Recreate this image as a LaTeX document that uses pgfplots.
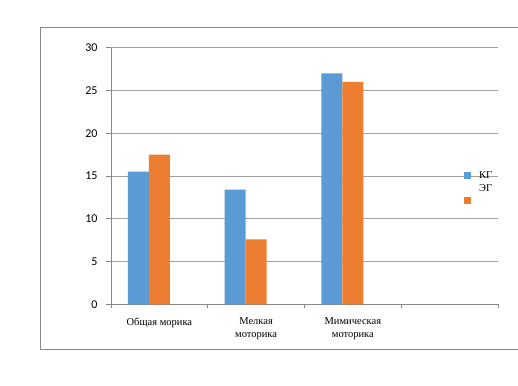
\documentclass[border=0pt]{standalone}
\usepackage{pgfplots}
\pgfplotsset{compat=1.18}
\usepackage{fontspec}
\setmainfont{Liberation Serif}
\newfontfamily\calib{Carlito}
\definecolor{kg}{HTML}{5B9BD5}
\definecolor{eg}{HTML}{ED7D31}
\definecolor{ax}{HTML}{888888}
\definecolor{gr}{HTML}{A0A0A0}
\begin{document}
\begin{tikzpicture}[x=1pt,y=1pt]
\useasboundingbox (0,0) rectangle (518,385);
\draw[ax, line width=0.9pt] (40,36) rectangle (530,358);
\begin{axis}[
  at={(111pt,80.7pt)}, anchor=south west,
  scale only axis, width=387pt, height=256.6pt,
  xmin=-0.5, xmax=3.5, ymin=0, ymax=30,
  ytick={0,5,...,30},
  xtick={0,1,2},
  xticklabels={Общая морика, Мелкая\\моторика, Мимическая\\моторика},
  minor xtick={-0.5,0.5,1.5,2.5,3.5},
  ymajorgrids, major grid style={gr, line width=0.6pt},
  axis x line*=bottom, axis y line*=left,
  axis line style={ax, line width=0.8pt, -},
  tick align=outside,
  major tick length=5pt, minor tick length=4pt,
  tick style={ax, line width=0.6pt},
  major x tick style={draw=none},
  /pgf/number format/assume math mode=true,
  yticklabel style={font=\calib\fontsize{12}{14}\selectfont, xshift=-5pt},
  xticklabel style={font=\fontsize{10.5}{12.7}\selectfont, align=center, yshift=-5pt},
  ybar, bar width=21pt,
  legend style={at={(0.912,0.523)}, anchor=north west, draw=none, fill=none,
    font=\fontsize{10.5}{12}\selectfont, inner sep=0pt, row sep=3pt,
    nodes={inner sep=1pt}},
  legend cell align=left,
]
\addplot[fill=kg, draw=none, bar shift=-21pt,
  legend image code/.code={\fill[kg] (0pt,-3.5pt) rectangle (7pt,3.5pt); \path (14pt,0pt);}]
  coordinates {(0,15.5) (1,13.4) (2,27)};
\addplot[fill=eg, draw=none, bar shift=0pt,
  legend image code/.code={\fill[eg] (0pt,-15pt) rectangle (7pt,-8pt); \path (14pt,0pt);}]
  coordinates {(0,17.5) (1,7.6) (2,26)};
\legend{КГ, ЭГ}
\end{axis}
\end{tikzpicture}
\end{document}
